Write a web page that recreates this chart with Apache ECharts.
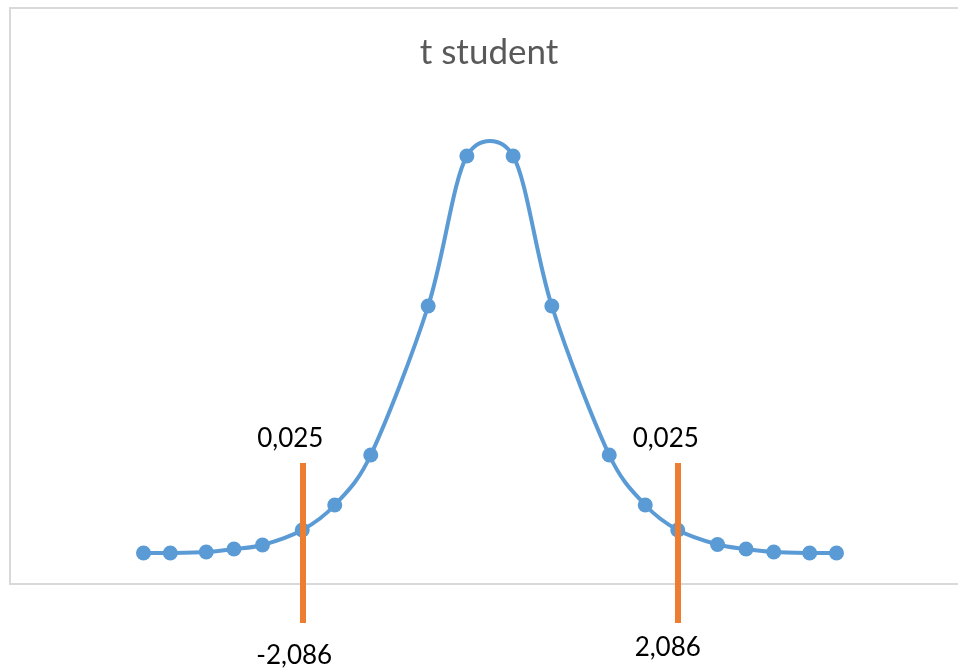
<!DOCTYPE html>
<html>
<head>
<meta charset="utf-8">
<script src="https://cdn.jsdelivr.net/npm/echarts@6/dist/echarts.min.js"></script>
<style>
  html, body { margin: 0; padding: 0; background: #ffffff; }
  #chart { width: 958px; height: 669px; }
</style>
</head>
<body>
<div id="chart"></div>
<script>
// ---- data ----
const chartTitle = 't student';
const tValues = [-3.850, -3.552, -3.153, -2.845, -2.528, -2.086, -1.725, -1.325, -0.687, -0.257,
                  0.257, 0.687, 1.325, 1.725, 2.086, 2.528, 2.845, 3.153, 3.552, 3.850];
const density = [0.030, 0.030, 0.031, 0.034, 0.038, 0.053, 0.078, 0.128, 0.277, 0.427,
                 0.427, 0.277, 0.128, 0.078, 0.053, 0.0385, 0.034, 0.031, 0.030, 0.030];
const criticalT = [-2.086, 2.086];
const tailAlpha = [0.025, 0.025];

// ---- helpers ----
const fmt = v => v.toFixed(3).replace('.', ',');
const LINE_TOP = 0.12;
const LINE_BOTTOM = -0.04;
const TENSION = 1 / 6;
const BLUE = '#5B9BD5';
const ORANGE = '#ED7D31';

const chart = echarts.init(document.getElementById('chart'), null, { renderer: 'canvas' });

const points = tValues.map((t, i) => [t, density[i]]);

// Excel-like smoothed line: each item draws the bezier segment to the next point,
// control points derived from neighbouring points (pixel coords via api.coord)
function renderSegment(params, api) {
  const i = params.dataIndex;
  const n = points.length;
  if (i >= n - 1) return null;
  const P = k => api.coord(points[Math.max(0, Math.min(n - 1, k))]);
  function ctrl(k) {
    const p = P(k), prev = P(k - 1), next = P(k + 1);
    const vx = next[0] - prev[0], vy = next[1] - prev[1];
    const d = Math.hypot(vx, vy);
    const lp = Math.hypot(p[0] - prev[0], p[1] - prev[1]);
    const ln = Math.hypot(next[0] - p[0], next[1] - p[1]);
    const fn = d > 0 ? Math.min(TENSION, 0.5 * ln / d) : 0;
    const fp = d > 0 ? Math.min(TENSION, 0.5 * lp / d) : 0;
    return {
      next: [p[0] + vx * fn, p[1] + vy * fn],
      prev: [p[0] - vx * fp, p[1] - vy * fp]
    };
  }
  const a = P(i), b = P(i + 1);
  const c1 = ctrl(i).next, c2 = ctrl(i + 1).prev;
  return {
    type: 'bezierCurve',
    shape: { x1: a[0], y1: a[1], x2: b[0], y2: b[1], cpx1: c1[0], cpy1: c1[1], cpx2: c2[0], cpy2: c2[1] },
    style: { stroke: BLUE, lineWidth: 4, fill: null, lineCap: 'round' },
    silent: true
  };
}

const markPoints = [];
criticalT.forEach((c, i) => {
  markPoints.push({
    coord: [c, LINE_TOP],
    label: { formatter: fmt(tailAlpha[i]), offset: [-12, -24] }
  });
  markPoints.push({
    coord: [c, LINE_BOTTOM],
    label: { formatter: fmt(c), offset: i === 0 ? [-8, 33] : [-10, 25] }
  });
});

const option = {
  animation: false,
  backgroundColor: '#ffffff',
  graphic: [
    {
      type: 'rect',
      z: -10,
      silent: true,
      shape: { x: 10, y: 8, width: 1000, height: 576 },
      style: { fill: 'none', stroke: '#D9D9D9', lineWidth: 2 }
    },
    {
      type: 'text',
      x: 489,
      y: 53,
      silent: true,
      style: {
        text: chartTitle,
        align: 'center',
        verticalAlign: 'middle',
        fontFamily: 'Lato',
        fontSize: 35,
        fill: '#595959'
      }
    }
  ],
  grid: { left: 40, right: 18, top: 83, bottom: 6 },
  xAxis: {
    type: 'value', min: -5, max: 5, show: false,
    splitLine: { show: false }
  },
  yAxis: {
    type: 'value', min: -0.08, max: 0.5, show: false,
    splitLine: { show: false }
  },
  series: [
    {
      type: 'custom',
      name: chartTitle + ' curve',
      renderItem: renderSegment,
      data: points,
      clip: false,
      z: 2
    },
    {
      type: 'scatter',
      name: chartTitle,
      data: points,
      symbol: 'circle',
      symbolSize: 15,
      z: 3,
      itemStyle: { color: BLUE, opacity: 1 },
      emphasis: { disabled: true },
      markLine: {
        silent: true,
        symbol: ['none', 'none'],
        label: { show: false },
        lineStyle: { color: ORANGE, width: 6, type: 'solid', opacity: 1 },
        emphasis: { disabled: true },
        data: criticalT.map(c => [{ coord: [c, LINE_BOTTOM] }, { coord: [c, LINE_TOP] }])
      },
      markPoint: {
        silent: true,
        symbol: 'circle',
        symbolSize: 0,
        itemStyle: { color: 'rgba(0,0,0,0)' },
        label: {
          show: true,
          position: 'inside',
          color: '#000000',
          fontFamily: 'Lato',
          fontSize: 26
        },
        data: markPoints
      }
    }
  ]
};

chart.setOption(option);
</script>
</body>
</html>
